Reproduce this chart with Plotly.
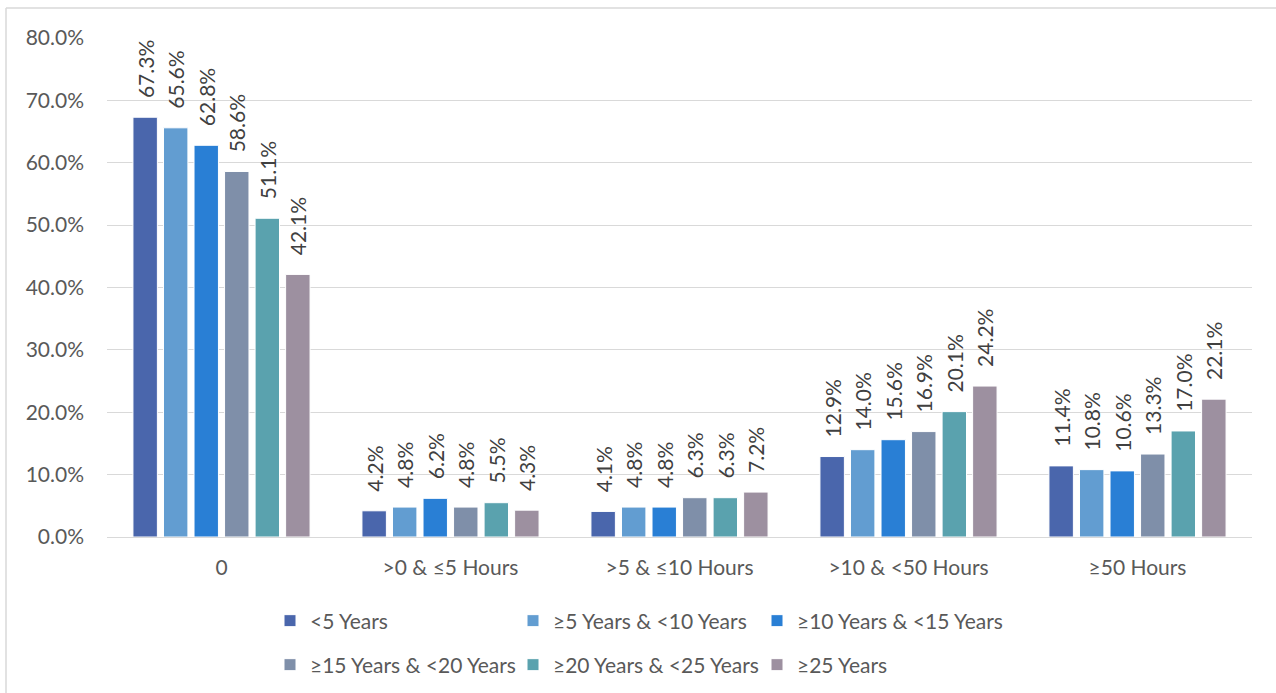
import plotly.graph_objects as go

categories = ["0", ">0 & ≤5 Hours", ">5 & ≤10 Hours", ">10 & <50 Hours", "≥50 Hours"]
series_names = ["<5 Years", "≥5 Years & <10 Years", "≥10 Years & <15 Years",
                "≥15 Years & <20 Years", "≥20 Years & <25 Years", "≥25 Years"]
lt5 = [67.3, 4.2, 4.1, 12.9, 11.4]
y5_10 = [65.6, 4.8, 4.8, 14.0, 10.8]
y10_15 = [62.8, 6.2, 4.8, 15.6, 10.6]
y15_20 = [58.6, 4.8, 6.3, 16.9, 13.3]
y20_25 = [51.1, 5.5, 6.3, 20.1, 17.0]
ge25 = [42.1, 4.3, 7.2, 24.2, 22.1]
series_values = [lt5, y5_10, y10_15, y15_20, y20_25, ge25]
colors = ["#4A66AC", "#629DD1", "#297FD5", "#7F8FA9", "#5AA2AE", "#9D90A0"]
y_ticks = [0, 10, 20, 30, 40, 50, 60, 70, 80]

FONT = "Lato, Liberation Sans, sans-serif"
FS = 21

W, H = 1276, 693
L, R, T, B = 107, 24, 38, 156
pw, ph = W - L - R, H - T - B

def px(x):
    return (x - L) / pw

def py(y):
    return (H - B - y) / ph

legend_cols = [270, 513, 757]
legend_rows = [621, 665]
PAD = "\u00a0\u00a0\u00a0"

fig = go.Figure()
legends = {}
for i, (name, vals, col) in enumerate(zip(series_names, series_values, colors)):
    key = f"legend{i + 2}"
    fig.add_trace(go.Bar(
        x=categories, y=vals, name=name,
        marker=dict(color=col, line=dict(color="white", width=1)),
        text=[f"{PAD}{v:.1f}%" for v in vals],
        textposition="outside", textangle=-90,
        textfont=dict(family=FONT, size=FS, color="#404040"),
        constraintext="none",
        cliponaxis=False,
        showlegend=True,
        legend=key,
    ))
    legends[key] = dict(orientation="h", visible=True,
                        x=px(legend_cols[i % 3]), y=py(legend_rows[i // 3]),
                        yanchor="middle", xanchor="left",
                        font=dict(size=FS, color="#595959"), bgcolor="rgba(0,0,0,0)")

fig.update_layout(
    width=W, height=H,
    showlegend=True,
    margin=dict(l=L, r=R, t=T, b=B, autoexpand=False),
    paper_bgcolor="white", plot_bgcolor="white",
    barmode="group", bargap=0.2, bargroupgap=0.2,
    font=dict(family=FONT, size=FS, color="#595959"),
    xaxis=dict(showgrid=False, showline=True, linecolor="#D9D9D9", linewidth=1,
               ticks="", ticklabelstandoff=12, tickfont=dict(size=FS, color="#595959")),
    yaxis=dict(range=[0, 80], tickvals=y_ticks,
               ticktext=[f"{v:.1f}%" for v in y_ticks],
               showgrid=True, gridcolor="#D9D9D9", gridwidth=1,
               zeroline=False, showline=False, ticks="",
               ticklabelstandoff=22,
               tickfont=dict(size=FS, color="#595959")),
    shapes=[
        dict(type="line", xref="paper", yref="paper", x0=px(6), x1=px(1276), y0=py(8), y1=py(8),
             line=dict(color="#D9D9D9", width=1.5)),
        dict(type="line", xref="paper", yref="paper", x0=px(6), x1=px(6), y0=py(8), y1=py(693),
             line=dict(color="#D9D9D9", width=1.5)),
    ],
    **legends,
)

fig.write_html("out.html", config={"displayModeBar": False},
               post_script="document.body.style.margin='0';document.body.style.overflow='hidden';")
